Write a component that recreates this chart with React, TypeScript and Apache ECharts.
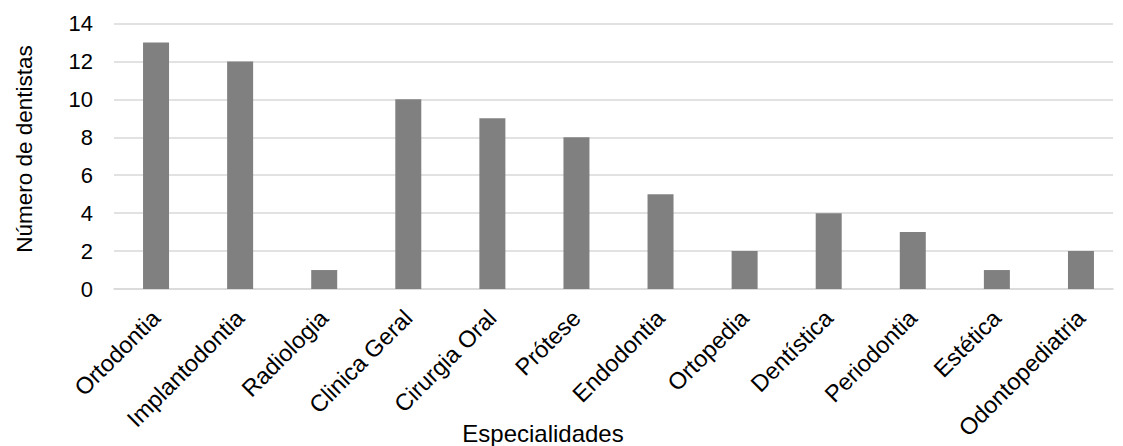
import React, { useEffect, useRef } from "react";
import * as echarts from "echarts";

const categories = [
  "Ortodontia",
  "Implantodontia",
  "Radiologia",
  "Clinica Geral",
  "Cirurgia Oral",
  "Prótese",
  "Endodontia",
  "Ortopedia",
  "Dentística",
  "Periodontia",
  "Estética",
  "Odontopediatria",
];
const dentistCounts = [13, 12, 1, 10, 9, 8, 5, 2, 4, 3, 1, 2];

const FONT = "'Liberation Sans', Arial, sans-serif";
const GRID_COLOR = "#d9d9d9";

export default function App() {
  const ref = useRef<HTMLDivElement>(null);

  useEffect(() => {
    document.body.style.margin = "0";
    if (!ref.current) return;
    const chart = echarts.init(ref.current, undefined, { renderer: "svg" });
    chart.setOption({
      animation: false,
      backgroundColor: "#ffffff",
      grid: [
        // frame: gridlines, baseline and value labels
        { left: 114, right: 10, top: 23.5, bottom: 157, containLabel: false },
        // bars and category labels (slightly wider category bands)
        { left: 114, right: -5.6, top: 23.5, bottom: 157, containLabel: false },
      ],
      xAxis: [
        {
          gridIndex: 0,
          type: "category",
          data: categories,
          axisTick: { show: false },
          axisLabel: { show: false },
          axisLine: { lineStyle: { color: GRID_COLOR, width: 1.5 } },
        },
        {
          gridIndex: 1,
          type: "category",
          data: categories,
          axisTick: { show: false },
          axisLine: { show: false },
          axisLabel: {
            rotate: 45,
            interval: 0,
            margin: 25,
            color: "#000000",
            fontFamily: FONT,
            fontSize: 23.5,
          },
        },
      ],
      yAxis: [
        {
          gridIndex: 0,
          type: "value",
          min: 0,
          max: 14,
          interval: 2,
          axisLine: { show: false },
          axisTick: { show: false },
          splitLine: { lineStyle: { color: GRID_COLOR, width: 1.5 } },
          axisLabel: {
            color: "#000000",
            fontFamily: FONT,
            fontSize: 22,
            margin: 21,
          },
        },
        {
          gridIndex: 1,
          type: "value",
          min: 0,
          max: 14,
          interval: 2,
          show: false,
          splitLine: { show: false },
        },
      ],
      graphic: [
        {
          type: "text",
          x: 543,
          y: 433,
          style: {
            text: "Especialidades",
            fill: "#000000",
            font: `24px ${FONT}`,
            textAlign: "center",
            textVerticalAlign: "middle",
          },
        },
        {
          type: "text",
          x: 24,
          y: 149,
          rotation: Math.PI / 2,
          style: {
            text: "Número de dentistas",
            fill: "#000000",
            font: `22.5px ${FONT}`,
            textAlign: "center",
            textVerticalAlign: "middle",
          },
        },
      ],
      series: [
        {
          type: "bar",
          xAxisIndex: 1,
          yAxisIndex: 1,
          data: dentistCounts,
          barWidth: 26,
          itemStyle: { color: "#808080" },
        },
      ],
    });
    return () => chart.dispose();
  }, []);

  return <div ref={ref} style={{ width: 1123, height: 446 }} />;
}
